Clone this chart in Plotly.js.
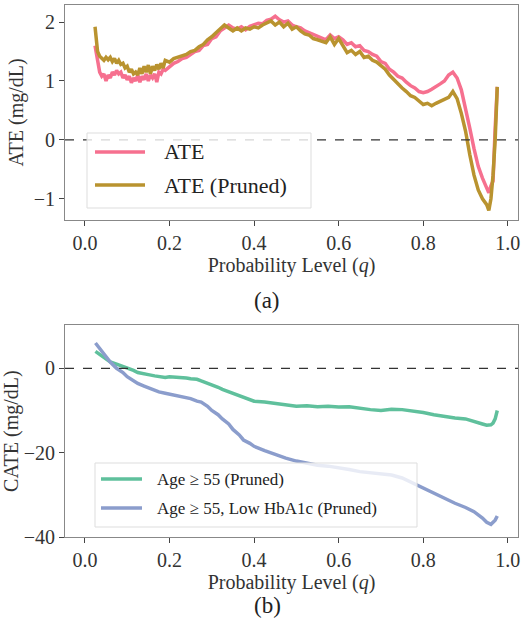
<!DOCTYPE html>
<html><head><script src="https://cdn.plot.ly/plotly-3.0.1.min.js"></script>
<style>body{margin:0}</style></head><body><div id="c" style="width:522px;height:634px"></div>
<script>
const qA=[0.024,0.03,0.035,0.04,0.045,0.05,0.055,0.06,0.065,0.07,0.075,0.08,0.085,0.09,0.095,0.10,0.105,0.11,0.115,0.12,0.125,0.13,0.135,0.14,0.145,0.15,0.155,0.16,0.165,0.17,0.175,0.18,0.185,0.19,0.20,0.21,0.22,0.23,0.24,0.25,0.26,0.27,0.28,0.29,0.30,0.31,0.32,0.33,0.34,0.35,0.36,0.37,0.38,0.39,0.40,0.41,0.42,0.43,0.44,0.45,0.46,0.47,0.48,0.49,0.50,0.51,0.52,0.53,0.54,0.55,0.56,0.57,0.58,0.59,0.60,0.61,0.62,0.63,0.64,0.65,0.66,0.67,0.68,0.69,0.70,0.71,0.72,0.73,0.74,0.75,0.76,0.77,0.78,0.79,0.80,0.81,0.82,0.83,0.84,0.85,0.86,0.87,0.88,0.89,0.90,0.91,0.92,0.93,0.94,0.95,0.955,0.96,0.965,0.97,0.975];
const ate=[1.6,1.3,1.15,1.08,1.12,1.0,1.1,1.05,1.15,1.1,1.18,1.12,1.15,1.05,1.1,1.02,1.08,0.97,1.05,1.0,1.1,0.98,1.08,1.02,1.12,1.0,1.1,1.05,1.12,0.98,1.15,1.12,1.2,1.18,1.25,1.3,1.33,1.38,1.4,1.45,1.5,1.52,1.6,1.62,1.72,1.75,1.85,1.9,1.95,1.9,1.88,1.92,1.87,1.93,1.95,1.98,1.97,2.03,2.05,2.1,2.04,2.0,2.02,1.95,1.92,1.9,1.85,1.82,1.8,1.76,1.74,1.7,1.78,1.72,1.75,1.7,1.62,1.65,1.58,1.6,1.52,1.5,1.45,1.42,1.33,1.3,1.2,1.15,1.08,1.05,0.98,0.92,0.88,0.82,0.8,0.82,0.86,0.9,0.95,1.0,1.1,1.15,1.05,0.85,0.55,0.2,-0.15,-0.45,-0.65,-0.8,-0.9,-0.78,-0.7,0.2,0.9];
const atePruned=[1.92,1.5,1.42,1.38,1.35,1.4,1.36,1.4,1.33,1.38,1.3,1.35,1.28,1.3,1.22,1.25,1.15,1.2,1.12,1.15,1.1,1.22,1.12,1.25,1.15,1.27,1.12,1.25,1.18,1.28,1.2,1.3,1.22,1.35,1.32,1.38,1.4,1.42,1.45,1.5,1.52,1.58,1.62,1.7,1.75,1.82,1.88,1.95,1.9,1.85,1.9,1.85,1.9,1.88,1.92,1.9,1.95,1.98,2.02,1.95,2.0,1.92,1.98,1.88,1.92,1.85,1.8,1.78,1.72,1.7,1.68,1.65,1.75,1.62,1.72,1.6,1.48,1.52,1.45,1.5,1.4,1.42,1.35,1.32,1.25,1.2,1.1,1.02,0.95,0.88,0.82,0.75,0.72,0.65,0.6,0.62,0.58,0.62,0.65,0.68,0.72,0.82,0.7,0.45,0.15,-0.25,-0.6,-0.85,-1.0,-1.1,-1.2,-1.0,-0.6,0.0,0.9];
const qB=[0.025,0.04,0.05,0.06,0.075,0.09,0.10,0.115,0.125,0.14,0.15,0.165,0.175,0.19,0.20,0.215,0.225,0.24,0.25,0.265,0.275,0.29,0.30,0.315,0.325,0.34,0.35,0.365,0.375,0.39,0.40,0.425,0.45,0.475,0.50,0.525,0.55,0.575,0.60,0.625,0.65,0.675,0.70,0.725,0.75,0.775,0.80,0.825,0.85,0.875,0.90,0.92,0.94,0.95,0.96,0.965,0.97,0.975];
const cateAge=[4,3,2.2,1.5,1,0.5,0,-0.5,-1,-1.2,-1.5,-1.8,-2,-2.2,-2,-2.1,-2,-2.3,-2.5,-2.6,-3,-3.5,-4,-4.5,-5,-5.6,-6,-6.5,-7,-7.4,-7.8,-8,-8.3,-8.6,-9,-8.9,-9.1,-9,-9.2,-9.1,-9.5,-9.8,-10,-9.7,-9.8,-10.1,-10.5,-11,-11.5,-11.8,-12,-12.5,-13.2,-13.5,-13.4,-13,-12,-10];
const cateAgeHb=[6,4,2.7,1.5,0,-1,-2,-3,-3.6,-4.2,-4.6,-5.2,-5.6,-5.9,-6.1,-6.4,-6.6,-7,-7.2,-7.8,-8,-9,-10,-11,-12,-13.2,-14.5,-15.8,-17,-17.8,-18.5,-19.5,-20.5,-21.3,-22,-22.5,-23,-23.2,-23.5,-24,-24.5,-24.8,-25,-25.3,-26,-27.2,-28.5,-29.8,-31,-32,-33,-34,-35.5,-36.5,-37,-36.5,-36,-35];
const F='Liberation Serif, DejaVu Serif, serif';
const ax={range:[-0.047,1.024],tickvals:[0,0.2,0.4,0.6,0.8,1.0],ticktext:['0.0','0.2','0.4','0.6','0.8','1.0'],showline:true,mirror:true,linecolor:'#888',ticks:'outside',ticklen:5,tickcolor:'#444',showgrid:false,zeroline:false,tickfont:{family:F,size:20,color:'#333'},title:{text:'Probability Level (<i>q</i>)',font:{family:F,size:20,color:'#333'},standoff:0}};
const data=[
{x:qA,y:ate,type:'scatter',mode:'lines',name:'ATE',line:{color:'#f6708f',width:3.5},xaxis:'x',yaxis:'y'},
{x:qA,y:atePruned,type:'scatter',mode:'lines',name:'ATE (Pruned)',line:{color:'#b9932f',width:3.5},xaxis:'x',yaxis:'y'},
{x:qB,y:cateAge,type:'scatter',mode:'lines',name:'Age ≥ 55 (Pruned)',line:{color:'#5fc09c',width:3.5},xaxis:'x2',yaxis:'y2'},
{x:qB,y:cateAgeHb,type:'scatter',mode:'lines',name:'Age ≥ 55, Low HbA1c (Pruned)',line:{color:'#8b9dcc',width:3.5},xaxis:'x2',yaxis:'y2'}];
const P=y=>(537-y)/532, X=x=>(x-65)/453;
const layout={width:522,height:634,margin:{l:65,r:4,t:5,b:97},showlegend:false,paper_bgcolor:'white',plot_bgcolor:'white',
xaxis:Object.assign({},ax,{anchor:'y'}),xaxis2:Object.assign({},ax,{anchor:'y2'}),
yaxis:{domain:[0.596,1],range:[-1.36,2.29],tickvals:[-1,0,1,2],ticktext:['−1','0','1','2'],showline:true,mirror:true,linecolor:'#888',ticks:'outside',ticklen:5,tickcolor:'#444',showgrid:false,zeroline:false,tickfont:{family:F,size:20,color:'#333'},title:{text:'ATE (mg/dL)',font:{family:F,size:20,color:'#333'},standoff:4}},
yaxis2:{domain:[0,0.398],range:[-40,10.2],tickvals:[-40,-20,0],ticktext:['−40','−20','0'],showline:true,mirror:true,linecolor:'#888',ticks:'outside',ticklen:5,tickcolor:'#444',showgrid:false,zeroline:false,tickfont:{family:F,size:20,color:'#333'},title:{text:'CATE (mg/dL)',font:{family:F,size:20,color:'#333'},standoff:4}},
shapes:[{type:'line',xref:'x domain',yref:'y',x0:0,x1:1,y0:0,y1:0,line:{color:'#333',width:1.2,dash:'dash'}},
{type:'line',xref:'x2 domain',yref:'y2',x0:0,x1:1,y0:0,y1:0,line:{color:'#333',width:1.2,dash:'dash'}},
{type:'rect',xref:'paper',yref:'paper',x0:X(87),x1:X(311),y0:P(208),y1:P(133),fillcolor:'rgba(255,255,255,0.8)',line:{color:'#ddd',width:1}},
{type:'line',xref:'paper',yref:'paper',x0:X(95),x1:X(145),y0:P(152),y1:P(152),line:{color:'#f6708f',width:3.5}},
{type:'line',xref:'paper',yref:'paper',x0:X(95),x1:X(145),y0:P(185),y1:P(185),line:{color:'#b9932f',width:3.5}},
{type:'rect',xref:'paper',yref:'paper',x0:X(95),x1:X(417),y0:P(527),y1:P(463),fillcolor:'rgba(255,255,255,0.8)',line:{color:'#ddd',width:1}},
{type:'line',xref:'paper',yref:'paper',x0:X(101),x1:X(142),y0:P(479),y1:P(479),line:{color:'#5fc09c',width:3.5}},
{type:'line',xref:'paper',yref:'paper',x0:X(101),x1:X(142),y0:P(508),y1:P(508),line:{color:'#8b9dcc',width:3.5}}],
annotations:[
{text:'ATE',xref:'paper',yref:'paper',x:X(162),y:P(152),xanchor:'left',yanchor:'middle',showarrow:false,font:{family:F,size:22,color:'#222'}},
{text:'ATE (Pruned)',xref:'paper',yref:'paper',x:X(162),y:P(185),xanchor:'left',yanchor:'middle',showarrow:false,font:{family:F,size:22,color:'#222'}},
{text:'Age ≥ 55 (Pruned)',xref:'paper',yref:'paper',x:X(155),y:P(479),xanchor:'left',yanchor:'middle',showarrow:false,font:{family:F,size:17,color:'#222'}},
{text:'Age ≥ 55, Low HbA1c (Pruned)',xref:'paper',yref:'paper',x:X(155),y:P(508),xanchor:'left',yanchor:'middle',showarrow:false,font:{family:F,size:17,color:'#222'}},
{text:'(a)',xref:'paper',yref:'paper',x:X(267),y:P(300),yanchor:'middle',showarrow:false,font:{family:F,size:23,color:'#222'}},
{text:'(b)',xref:'paper',yref:'paper',x:X(267),y:P(605),yanchor:'middle',showarrow:false,font:{family:F,size:23,color:'#222'}}]};
Plotly.newPlot('c',data,layout,{displayModeBar:false});
</script></body></html>
